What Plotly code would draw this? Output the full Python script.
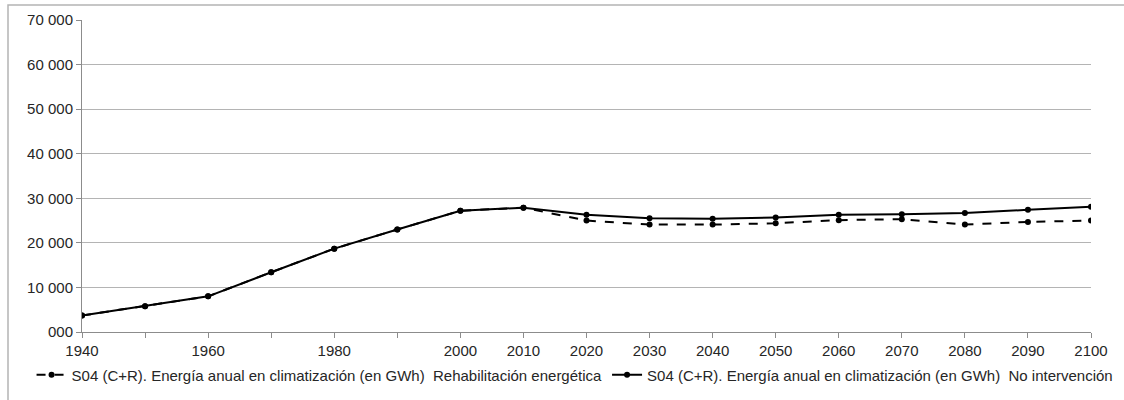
import plotly.graph_objects as go

years = [1940, 1950, 1960, 1970, 1980, 1990, 2000, 2010, 2020, 2030, 2040, 2050, 2060, 2070, 2080, 2090, 2100]
tick_labels = ["1940", "", "1960", "", "1980", "", "2000", "2010", "2020", "2030", "2040", "2050", "2060", "2070", "2080", "2090", "2100"]
rehab = [3700, 5800, 8000, 13400, 18700, 23000, 27200, 27900, 25000, 24100, 24100, 24400, 25100, 25300, 24100, 24700, 25000]
no_interv = [3700, 5800, 8000, 13400, 18700, 23000, 27200, 27900, 26300, 25500, 25400, 25700, 26300, 26400, 26700, 27400, 28100]
y_ticks = [0, 10000, 20000, 30000, 40000, 50000, 60000, 70000]
y_labels = ["000", "10 000", "20 000", "30 000", "40 000", "50 000", "60 000", "70 000"]

name_a = "S04 (C+R). Energía anual en climatización (en GWh)  Rehabilitación energética"
name_b = "S04 (C+R). Energía anual en climatización (en GWh)  No intervención"

fig = go.Figure()
fig.add_trace(go.Scatter(x=years, y=rehab, name=name_a, mode="lines+markers",
                         line=dict(color="black", width=2, dash="dash"),
                         marker=dict(symbol="circle", size=6, color="black")))
fig.add_trace(go.Scatter(x=years, y=no_interv, name=name_b, mode="lines+markers",
                         line=dict(color="black", width=2),
                         marker=dict(symbol="circle", size=6, color="black")))

fig.update_layout(
    width=1124, height=400,
    margin=dict(l=82, r=33, t=20, b=68, autoexpand=False),
    paper_bgcolor="white", plot_bgcolor="white",
    font=dict(family="Liberation Sans, Arial, sans-serif", size=15, color="#262626"),
    showlegend=True,
    legend=dict(orientation="h", x=-0.05, xanchor="left", y=-0.138, yanchor="middle",
                font=dict(size=15, color="#262626"), itemwidth=30, tracegroupgap=0,
                bgcolor="rgba(0,0,0,0)"),
    xaxis=dict(range=[1940, 2100], tickmode="array", tickvals=years, ticktext=tick_labels,
               showgrid=False, showline=True, linecolor="#8c8c8c", linewidth=1,
               ticks="outside", ticklen=5, tickcolor="#8c8c8c", zeroline=False,
               tickfont=dict(size=15, color="#262626")),
    yaxis=dict(range=[0, 70000], tickmode="array", tickvals=y_ticks, ticktext=y_labels,
               showgrid=True, gridcolor="#b4b4b4", gridwidth=1,
               showline=True, linecolor="#8c8c8c", linewidth=1,
               ticks="outside", ticklen=5, tickcolor="#8c8c8c", zeroline=False,
               tickfont=dict(size=15, color="#262626")),
)

fig.add_shape(type="rect", xref="paper", yref="paper",
              x0=-74/1009, x1=1.2, y0=-0.5, y1=1 + 15/312,
              line=dict(color="#b4b4b4", width=1.5), fillcolor="rgba(0,0,0,0)", layer="below")

fig.write_html("out.html", config={"displayModeBar": False},
               post_script="document.body.style.margin='0';")
